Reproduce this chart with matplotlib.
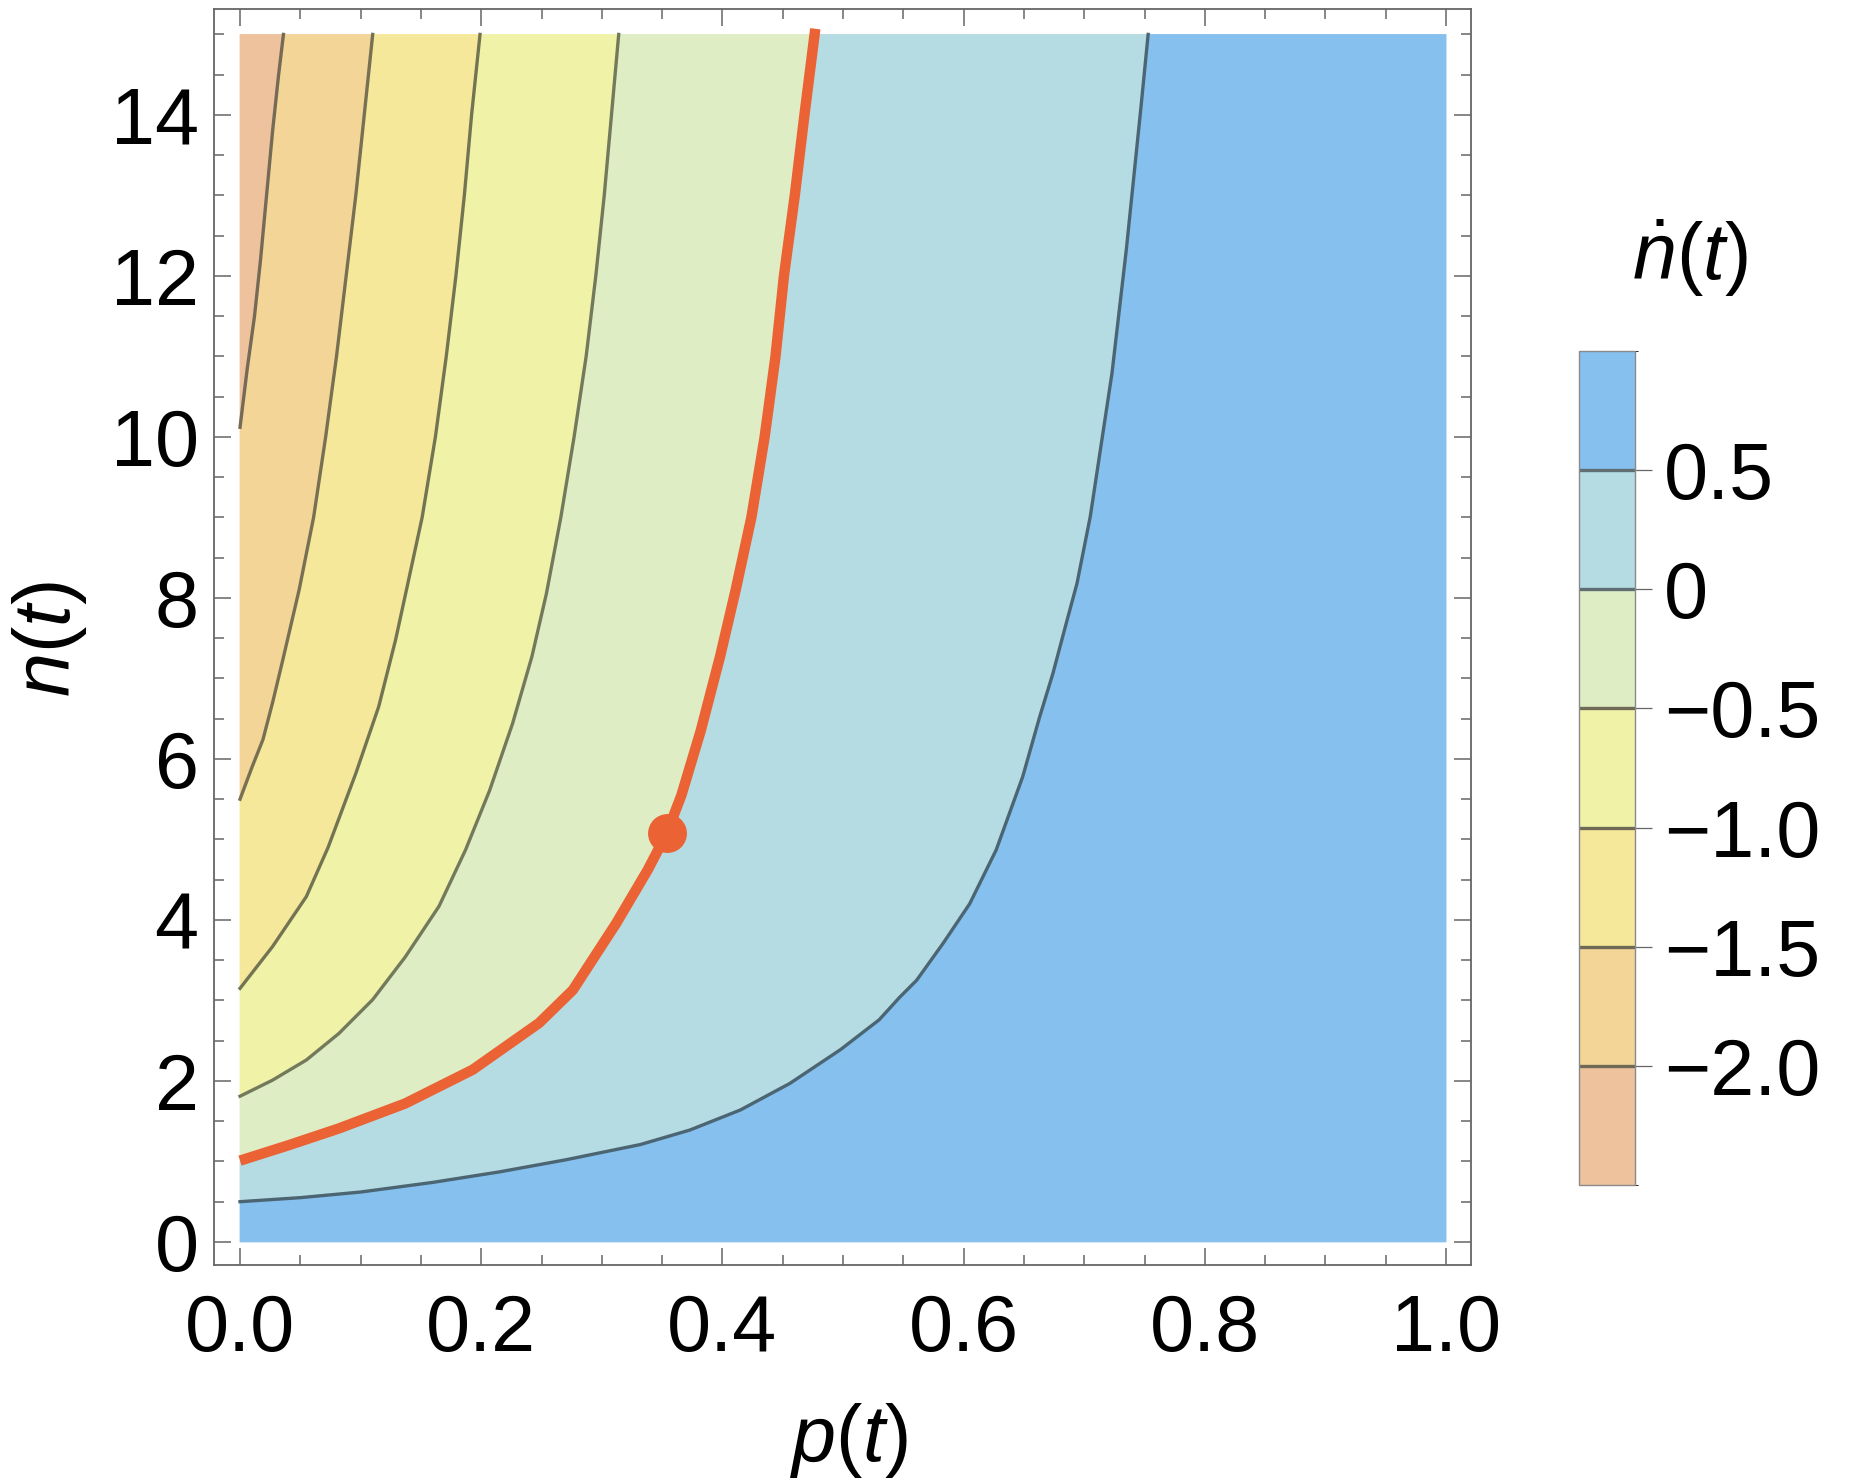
import numpy as np
import matplotlib
matplotlib.use("Agg")
import matplotlib.pyplot as plt
from matplotlib.colors import ListedColormap, BoundaryNorm
from matplotlib.cm import ScalarMappable
from matplotlib.ticker import MultipleLocator

plt.rcParams["font.family"] = ["Liberation Sans", "DejaVu Sans"]
plt.rcParams["mathtext.fontset"] = "custom"
plt.rcParams["mathtext.rm"] = "Liberation Sans"
plt.rcParams["mathtext.it"] = "Liberation Sans:italic"

# contour levels of n-dot and the band colours (lowest band first)
levels = [-2.0, -1.5, -1.0, -0.5, 0.0, 0.5]
level_labels = ["\u22122.0", "\u22121.5", "\u22121.0", "\u22120.5", "0", "0.5"]
band_colors = ["#EEC29C", "#F3D597", "#F6E89A", "#F0F2A8", "#DEEDC4", "#B5DBE3", "#85C0EF"]
line_colors = ["#756A55", "#787052", "#737552", "#737A5C", "#EB6235", "#4C6572"]

# contour lines: (p, n) from the left edge up to the top
p_m20 = [0.0, 0.006, 0.012, 0.017, 0.022, 0.027, 0.032, 0.036]
n_m20 = [10.12, 10.85, 11.5, 12.2, 13.0, 13.8, 14.5, 15.0]

p_m15 = [0.0, 0.010, 0.019, 0.027, 0.035, 0.049, 0.061, 0.071, 0.080, 0.088, 0.096, 0.103, 0.110]
n_m15 = [5.50, 5.90, 6.24, 6.70, 7.20, 8.10, 9.0, 10.0, 11.0, 12.0, 13.0, 14.0, 15.0]

p_m10 = [0.0, 0.027, 0.055, 0.073, 0.096, 0.115, 0.129, 0.138, 0.151, 0.162, 0.171, 0.179, 0.186, 0.192, 0.199]
n_m10 = [3.15, 3.67, 4.29, 4.90, 5.82, 6.65, 7.48, 8.10, 9.0, 10.0, 11.0, 12.0, 13.0, 14.0, 15.0]

p_m05 = [0.0, 0.027, 0.055, 0.082, 0.110, 0.137, 0.165, 0.187, 0.207, 0.226, 0.242, 0.254,
         0.266, 0.277, 0.287, 0.295, 0.302, 0.308, 0.314]
n_m05 = [1.81, 2.01, 2.26, 2.59, 3.01, 3.54, 4.17, 4.87, 5.61, 6.44, 7.27, 8.05,
         9.0, 10.0, 11.0, 12.0, 13.0, 14.0, 15.0]

p_z = [0.0, 0.040, 0.082, 0.137, 0.193, 0.248, 0.276, 0.312, 0.338, 0.354, 0.366, 0.382,
       0.398, 0.411, 0.424, 0.435, 0.444, 0.451, 0.460, 0.468, 0.477]
n_z = [1.01, 1.20, 1.41, 1.72, 2.14, 2.72, 3.13, 3.96, 4.62, 5.08, 5.55, 6.35,
       7.27, 8.10, 9.0, 10.0, 11.0, 12.0, 13.0, 14.0, 15.07]

p_p05 = [0.0, 0.05, 0.10, 0.16, 0.215, 0.27, 0.332, 0.373, 0.415, 0.456, 0.498, 0.530, 0.547,
         0.561, 0.583, 0.605, 0.627, 0.649, 0.663, 0.674, 0.685, 0.694, 0.705,
         0.723, 0.735, 0.747, 0.753]
n_p05 = [0.50, 0.55, 0.62, 0.74, 0.87, 1.02, 1.21, 1.39, 1.64, 1.97, 2.39, 2.76, 3.04,
         3.25, 3.71, 4.20, 4.87, 5.78, 6.52, 7.06, 7.68, 8.18, 9.01,
         10.79, 12.34, 14.09, 15.0]

# marked point on the zero line
dot_p, dot_n = 0.354, 5.08

contours = [(p_m20, n_m20), (p_m15, n_m15), (p_m10, n_m10),
            (p_m05, n_m05), (p_z, n_z), (p_p05, n_p05)]

fig = plt.figure(figsize=(18.51, 14.84), dpi=100)
ax = fig.add_axes([0.1156, 0.1476, 0.6791, 0.8464])

# filled bands between neighbouring contours
bounds = [([0.0], [15.0])] + contours + [([0.0, 1.0, 1.0], [0.0, 0.0, 15.0])]
for i, col in enumerate(band_colors):
    pa, na = bounds[i]
    pb, nb = bounds[i + 1]
    px = list(pa) + list(pb)[::-1]
    ny = list(np.clip(na, 0, 15)) + list(np.clip(nb, 0, 15))[::-1]
    ax.fill(px, ny, color=col, lw=0.6, ec=col, zorder=1)

for (pc, nc), lc, lv in zip(contours, line_colors, levels):
    if lv == 0.0:
        ax.plot(pc, nc, color=lc, lw=7.5, solid_capstyle="butt", solid_joinstyle="round", zorder=4)
    else:
        ax.plot(pc, nc, color=lc, lw=2.4, solid_joinstyle="round", zorder=3)

ax.plot([dot_p], [dot_n], "o", color="#EB6235", ms=28, mec="none", zorder=5)

ax.set_xlim(-0.0216, 1.0207)
ax.set_ylim(-0.286, 15.317)

ax.xaxis.set_major_locator(MultipleLocator(0.2))
ax.xaxis.set_minor_locator(MultipleLocator(0.05))
ax.yaxis.set_major_locator(MultipleLocator(2))
ax.yaxis.set_minor_locator(MultipleLocator(0.5))
ax.set_xticks([0, 0.2, 0.4, 0.6, 0.8, 1.0])
ax.set_xticklabels(["0.0", "0.2", "0.4", "0.6", "0.8", "1.0"])

ax.tick_params(which="both", direction="in", top=True, right=True, color="#666666", width=1.1)
ax.tick_params(which="major", length=12)
ax.tick_params(which="minor", length=7.5)
ax.tick_params(axis="x", which="major", labelsize=57, pad=20)
ax.tick_params(axis="y", which="major", labelsize=57, pad=11)
for sp in ax.spines.values():
    sp.set_color("#666666")
    sp.set_linewidth(1.3)

ax.set_xlabel("$p(t)$", fontsize=57, va="top")
ax.xaxis.set_label_coords(0.505, -0.108)
ax.set_ylabel("$n(t)$", fontsize=57, va="center")
ax.yaxis.set_label_coords(-0.1305, 0.498)

# colour legend
cax = fig.add_axes([0.8531, 0.2015, 0.0303, 0.562])
cmap = ListedColormap(band_colors)
norm = BoundaryNorm([-2.5] + levels + [1.0], cmap.N)
cb = fig.colorbar(ScalarMappable(norm=norm, cmap=cmap), cax=cax, ticks=levels)
cb.ax.set_yticklabels(level_labels)
cb.ax.tick_params(labelsize=57, length=12, width=0.9, color="#666666", pad=9)
cb.outline.set_edgecolor("#8A8A8A")
cb.outline.set_linewidth(1.0)
cb.add_lines(levels, ["#6E6A55", "#6E6A55", "#6E6A55", "#6E6A55", "#5E6E72", "#5E6E72"], [2.4] * 6)
fig.text(0.913, 0.826, r"$\dot{n}(t)$", fontsize=57, ha="center", va="center")

fig.savefig("out.png", dpi=100)
